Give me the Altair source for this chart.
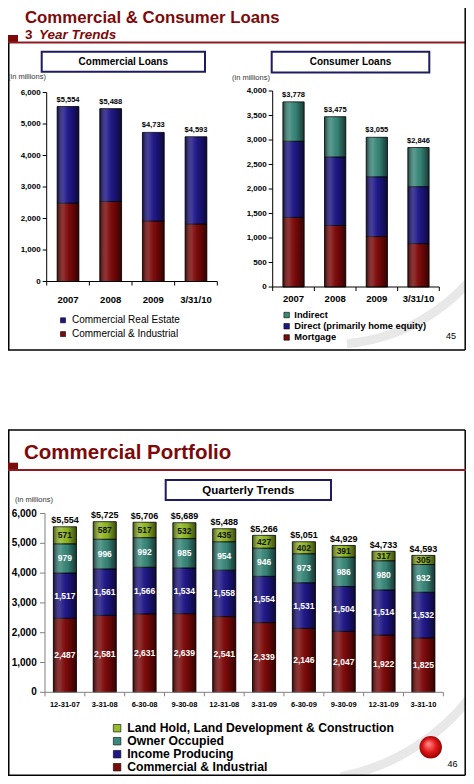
import altair as alt
import pandas as pd

FONT = "Liberation Sans"
TITLE_RED = "#7d0a0a"
LINE_RED = "#8c1c24"
NAVY_BOX = "#1c1c5e"

# ---------------- data ----------------
com_cats = ["2007", "2008", "2009", "3/31/10"]
com_legend = ["Commercial Real Estate", "Commercial & Industrial"]
com_ci = [2487, 2541, 1922, 1825]
com_cre = [3067, 2947, 2811, 2768]
com_totals = [5554, 5488, 4733, 4593]
com_yticks = [0, 1000, 2000, 3000, 4000, 5000, 6000]

con_cats = ["2007", "2008", "2009", "3/31/10"]
con_legend = ["Indirect", "Direct (primarily home equity)", "Mortgage"]
con_mortgage = [1420, 1255, 1030, 885]
con_direct = [1555, 1400, 1220, 1163]
con_indirect = [803, 820, 805, 798]
con_totals = [3778, 3475, 3055, 2846]
con_yticks = [0, 500, 1000, 1500, 2000, 2500, 3000, 3500, 4000]

q_cats = ["12-31-07", "3-31-08", "6-30-08", "9-30-08", "12-31-08",
          "3-31-09", "6-30-09", "9-30-09", "12-31-09", "3-31-10"]
q_legend = ["Land Hold, Land Development & Construction", "Owner Occupied",
            "Income Producing", "Commercial & Industrial"]
q_ci = [2487, 2581, 2631, 2639, 2541, 2339, 2146, 2047, 1922, 1825]
q_income = [1517, 1561, 1566, 1534, 1558, 1554, 1531, 1504, 1514, 1532]
q_owner = [979, 996, 992, 985, 954, 946, 973, 986, 980, 932]
q_land = [571, 587, 517, 532, 435, 427, 402, 391, 317, 305]
q_totals = [5554, 5725, 5706, 5689, 5488, 5266, 5051, 4929, 4733, 4593]
q_yticks = [0, 1000, 2000, 3000, 4000, 5000, 6000]

RED = "#7e0909"
NAVY = "#1f1789"
TEAL = "#3a8a7c"
GREEN = "#94bc26"

SHADE = alt.LinearGradient(
    gradient="linear", x1=0, x2=1, y1=0, y2=0,
    stops=[
        alt.GradientStop(offset=0, color="rgba(0,0,0,0.55)"),
        alt.GradientStop(offset=0.35, color="rgba(255,255,255,0.12)"),
        alt.GradientStop(offset=0.6, color="rgba(0,0,0,0.05)"),
        alt.GradientStop(offset=1, color="rgba(0,0,0,0.6)"),
    ],
)
BALL = alt.RadialGradient(
    gradient="radial", x1=0.4, y1=0.35, r1=0.05, x2=0.5, y2=0.5, r2=0.55,
    stops=[
        alt.GradientStop(offset=0, color="#ff8080"),
        alt.GradientStop(offset=0.5, color="#e01818"),
        alt.GradientStop(offset=1, color="#8a0000"),
    ],
)

ONE = pd.DataFrame({"d": [0]})


def long_df(cats, stacks):
    rows = []
    for k, (name, vals) in enumerate(stacks):
        for c, v in zip(cats, vals):
            rows.append({"cat": c, "series": name, "value": v, "k": k})
    return pd.DataFrame(rows)


def panel(cats, stacks, totals, legend_order, colors, xr, yr, ydom, yticks,
          pad_inner, legend, total_size, total_dy,
          ax_color, ytick_len, ylab_pad, ylab_size, xlab_y, xlab_size, xtick_len,
          seg_labels=False):
    df = long_df(cats, stacks)
    tot = pd.DataFrame({"cat": cats, "total": totals})
    tdf = pd.DataFrame({"v": yticks})
    cdf = pd.DataFrame({"cat": cats})
    xs = alt.Scale(domain=cats, range=xr, paddingInner=pad_inner, paddingOuter=pad_inner / 2)
    xb = alt.Scale(domain=cats, range=xr, paddingInner=0, paddingOuter=0)
    ys = alt.Scale(domain=ydom, range=yr, nice=False, zero=True)
    xa = xr[0]
    ya = yr[0]
    layers = []
    bars = alt.Chart(df).mark_bar(stroke="black", strokeWidth=0.8).encode(
        x=alt.X("cat:N", scale=xs, axis=None, sort=cats),
        y=alt.Y("value:Q", stack="zero", scale=ys, axis=None),
        color=alt.Color("series:N", scale=alt.Scale(domain=legend_order, range=colors), legend=legend),
        order=alt.Order("k:Q", sort="ascending"),
    )
    shade = alt.Chart(tot).mark_bar(fill=SHADE, strokeWidth=0).encode(
        x=alt.X("cat:N", scale=xs, axis=None, sort=cats),
        y=alt.Y("total:Q", scale=ys, axis=None),
    )
    labels = alt.Chart(tot).mark_text(
        font=FONT, fontSize=total_size, fontWeight="bold", baseline="alphabetic",
        dy=-total_dy, color="black",
    ).encode(
        x=alt.X("cat:N", scale=xs, axis=None, sort=cats),
        y=alt.Y("total:Q", scale=ys, axis=None),
        text=alt.Text("total:Q", format="$,"),
    )
    layers += [bars, shade, labels]
    if seg_labels:
        top_k = len(stacks) - 1
        seg = alt.Chart(df).transform_stack(
            stack="value", groupby=["cat"], as_=["y0", "y1"],
            sort=[alt.SortField("k", order="ascending")],
        ).transform_calculate(mid="(datum.y0 + datum.y1) / 2").mark_text(
            font=FONT, fontSize=8.5, fontWeight="bold", baseline="middle",
        ).encode(
            x=alt.X("cat:N", scale=xs, axis=None, sort=cats),
            y=alt.Y("mid:Q", scale=ys, axis=None),
            text=alt.Text("value:Q", format=","),
            color=alt.condition(alt.datum.k == top_k, alt.value("#111111"), alt.value("white")),
        )
        layers.append(seg)
    # ---- hand-built axes (scales shared by domain/range) ----
    ydomain = alt.Chart(ONE).mark_rule(color=ax_color, strokeWidth=1).encode(
        x=alt.value(xa), y=alt.value(yr[0]), y2=alt.value(yr[1]))
    xdomain = alt.Chart(ONE).mark_rule(color=ax_color, strokeWidth=1).encode(
        y=alt.value(ya), x=alt.value(xr[0]), x2=alt.value(xr[1]))
    yt = alt.Chart(tdf).mark_rule(color=ax_color, strokeWidth=1).encode(
        y=alt.Y("v:Q", scale=ys, axis=None), x=alt.value(xa - ytick_len), x2=alt.value(xa))
    yl = alt.Chart(tdf).mark_text(
        font=FONT, fontSize=ylab_size, fontWeight="bold", align="right",
        baseline="middle", color="black",
    ).encode(
        y=alt.Y("v:Q", scale=ys, axis=None), x=alt.value(xa - ytick_len - ylab_pad),
        text=alt.Text("v:Q", format=","))
    xt0 = alt.Chart(cdf).mark_rule(color=ax_color, strokeWidth=1).encode(
        x=alt.X("cat:N", scale=xb, axis=None, sort=cats, bandPosition=0),
        y=alt.value(ya), y2=alt.value(ya + xtick_len))
    xt1 = alt.Chart(cdf).transform_filter(
        alt.datum.cat == cats[-1]
    ).mark_rule(color=ax_color, strokeWidth=1).encode(
        x=alt.X("cat:N", scale=xb, axis=None, sort=cats, bandPosition=1),
        y=alt.value(ya), y2=alt.value(ya + xtick_len))
    xl = alt.Chart(cdf).mark_text(
        font=FONT, fontSize=xlab_size, fontWeight="bold", align="center",
        baseline="middle", color="black",
    ).encode(
        x=alt.X("cat:N", scale=xs, axis=None, sort=cats),
        y=alt.value(xlab_y), text="cat:N")
    layers += [ydomain, xdomain, yt, yl, xt0, xt1, xl]
    return layers


def legend(x, y, size, weight, sym, row_pad, label_offset=4):
    return alt.Legend(orient="none", legendX=x, legendY=y, title=None, symbolType="square",
                      symbolSize=sym, symbolStrokeColor="black", symbolStrokeWidth=0.6,
                      labelFont=FONT, labelFontSize=size, labelFontWeight=weight,
                      labelColor="black", rowPadding=row_pad, labelOffset=label_offset,
                      padding=0, labelLimit=400)


com_layers = panel(
    com_cats, [("Commercial & Industrial", com_ci), ("Commercial Real Estate", com_cre)],
    com_totals, com_legend, [NAVY, RED],
    [38.7, 209.3], [273.5, 84.5], [0, 6000], com_yticks, 0.49,
    legend(50, 307.3, 10, "normal", 25, 3.8), 7.5, 5,
    "black", 4, 2, 8, 291.5, 9.5, 4,
)
con_layers = panel(
    con_cats, [("Mortgage", con_mortgage), ("Direct (primarily home equity)", con_direct),
               ("Indirect", con_indirect)],
    con_totals, con_legend, [TEAL, NAVY, RED],
    [264.7, 431.3], [279, 83], [0, 4000], con_yticks, 0.49,
    legend(274, 302.4, 9.3, "bold", 30, 1.2, 3), 7.5, 5,
    "black", 4, 2, 8, 291, 9.5, 4,
)
q_layers = panel(
    q_cats, [("Commercial & Industrial", q_ci), ("Income Producing", q_income),
             ("Owner Occupied", q_owner), ("Land Hold, Land Development & Construction", q_land)],
    q_totals, q_legend, [GREEN, TEAL, NAVY, RED],
    [37, 435.3], [684.3, 505.5], [0, 6000], q_yticks, 0.42,
    legend(103, 714.1, 12.2, "bold", 56, 0), 9, 3.5,
    "#808080", 5, 3.3, 10, 697, 7.5, 4,
    seg_labels=True,
)


# ---------------- decorations ----------------
def text(t, x, y, size, color="black", weight="normal", style="normal",
         align="left", baseline="middle"):
    return alt.Chart(ONE).mark_text(
        text=t, font=FONT, fontSize=size, fontWeight=weight, fontStyle=style,
        color=color, align=align, baseline=baseline,
    ).encode(x=alt.value(x), y=alt.value(y))


def line(x1, y1, x2, y2, color="black", w=1.5):
    return alt.Chart(ONE).mark_rule(color=color, strokeWidth=w).encode(
        x=alt.value(x1), y=alt.value(y1), x2=alt.value(x2), y2=alt.value(y2))


def rect(x1, y1, x2, y2, fill, stroke=None, w=0):
    kw = dict(fill=fill, strokeWidth=w)
    if stroke:
        kw["stroke"] = stroke
    return alt.Chart(ONE).mark_rect(**kw).encode(
        x=alt.value(x1), y=alt.value(y1), x2=alt.value(x2), y2=alt.value(y2))


def arc(cx, cy, t1, t2, r1, r2, color):
    return alt.Chart(ONE).mark_arc(fill=color).encode(
        x=alt.value(cx), y=alt.value(cy), theta=alt.value(t1), theta2=alt.value(t2),
        radius=alt.value(r1), radius2=alt.value(r2))


W, H = 458, 768
RX = W - 0.8
BY = H - 0.8

back = [
    arc(322, 152, 2.2, 3.05, 189, 180, "#e8e8e8"),
    arc(292, 557, 2.2, 2.95, 220, 211, "#e8e8e8"),
]

front = [
    # top slide
    text("Commercial & Consumer Loans", 17, 14.8, 16.8, TITLE_RED, "bold", baseline="alphabetic"),
    text("3", 17, 30.8, 13.5, TITLE_RED, "bold", baseline="alphabetic"),
    text("Year Trends", 31, 30.8, 13.5, TITLE_RED, "bold", "italic", baseline="alphabetic"),
    rect(0, 27, 10, 34.7, TITLE_RED),
    line(0, 34.5, W, 34.5, LINE_RED, 2),
    line(0.75, 35, 0.75, 342),
    line(RX, 0, RX, 342),
    line(0, 342, RX, 342),
    rect(33.7, 43.7, 197, 63.7, "white", NAVY_BOX, 2),
    text("Commercial Loans", 115.3, 54, 10, "black", "bold", align="center"),
    rect(263.7, 43.7, 421.3, 64.5, "white", NAVY_BOX, 2),
    text("Consumer Loans", 342.5, 54, 10, "black", "bold", align="center"),
    text("(in millions)", 0, 69, 7.5, "#333333"),
    text("(in millions)", 224, 70, 7.5, "#333333"),
    text("45", 443, 328, 9, "black", align="center"),
    # bottom slide
    line(0, 422, RX, 422),
    line(0.75, 422, 0.75, BY),
    line(RX, 422, RX, BY),
    line(0, BY, RX, BY),
    text("Commercial Portfolio", 16, 451.3, 20.5, TITLE_RED, "bold", baseline="alphabetic"),
    rect(0, 454.7, 10, 462, TITLE_RED),
    line(0, 462, W, 462, LINE_RED, 2),
    rect(157.7, 472, 323, 492, "white", NAVY_BOX, 2),
    text("Quarterly Trends", 240.3, 482.5, 11.5, "black", "bold", align="center"),
    text("(in millions)", 7, 492, 7.5, "#333333"),
    text("46", 444.5, 756, 9, "black", align="center"),
    alt.Chart(ONE).mark_circle(fill=BALL, size=507, opacity=1).encode(
        x=alt.value(422.7), y=alt.value(739.3)),
]

chart = alt.layer(*back, *com_layers, *con_layers, *q_layers, *front).resolve_scale(
    x="independent", y="independent", color="independent"
).resolve_legend(color="independent").properties(
    width=W, height=H, padding=0, autosize=alt.AutoSizeParams(type="none"),
    background="white",
).configure_view(stroke=None)

chart.save("out.html", embed_options={"renderer": "svg", "actions": False})
